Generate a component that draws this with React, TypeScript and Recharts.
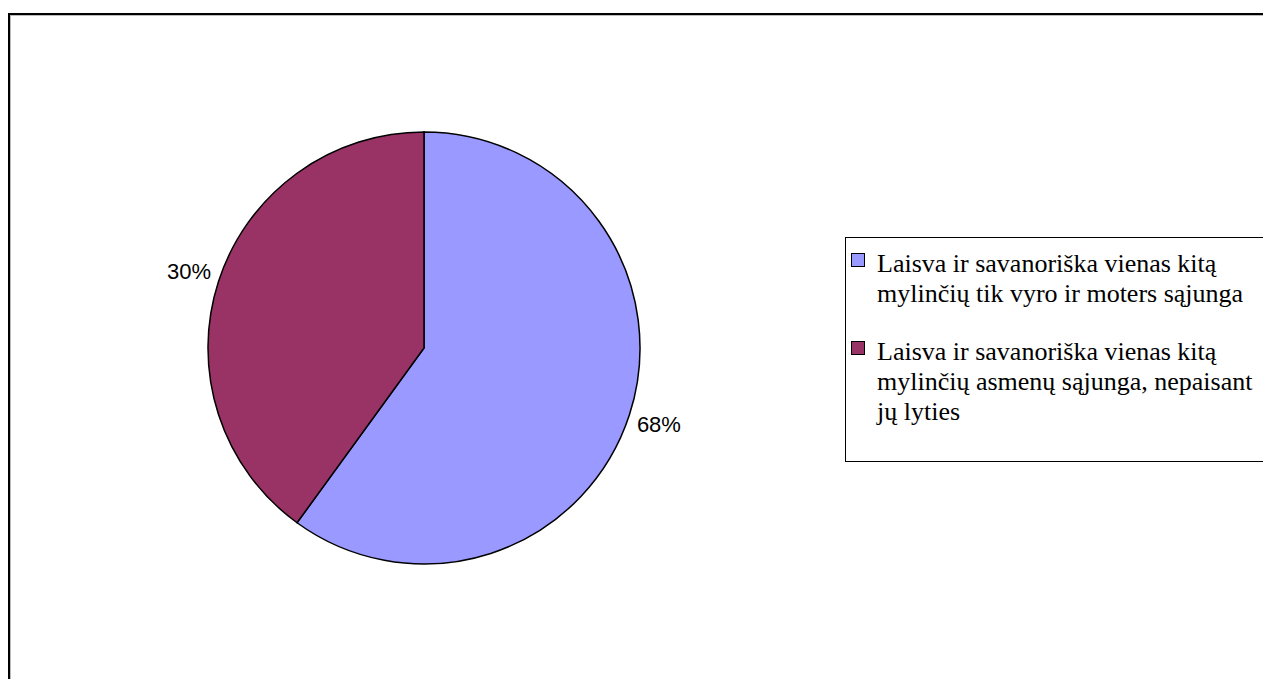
import { PieChart, Pie, Cell, Legend } from 'recharts';

// legend entries, line breaks as in the picture
const categories = [
  'Laisva ir savanoriška vienas kitą\nmylinčių tik vyro ir moters sąjunga',
  'Laisva ir savanoriška vienas kitą\nmylinčių asmenų sąjunga, nepaisant\njų lyties',
];
// slice sizes as drawn (the printed labels differ from the drawn angles)
const sliceValues = [60, 40];
const labelTexts = ['68%', '30%'];
const sliceColors = ['#9999FF', '#993366'];

const data = categories.map((name, i) => ({
  name,
  value: sliceValues[i],
  label: labelTexts[i],
}));

const RAD = Math.PI / 180;

function renderLabel(props: any) {
  const { cx, cy, midAngle, outerRadius, index } = props;
  const r = outerRadius + 31;
  const x = cx + r * Math.cos(-midAngle * RAD);
  const y = cy + r * Math.sin(-midAngle * RAD);
  return (
    <text
      x={x}
      y={y}
      textAnchor="middle"
      dominantBaseline="central"
      fill="#000"
      fontSize={22}
      fontFamily='"Liberation Sans", Arial, sans-serif'
    >
      {labelTexts[index]}
    </text>
  );
}

function LegendBox() {
  return (
    <div
      style={{
        border: '1px solid #000',
        width: 440,
        height: 212,
        boxSizing: 'content-box',
        background: '#fff',
        fontFamily: '"Liberation Serif", "Times New Roman", serif',
        fontSize: 26,
        lineHeight: '30px',
        color: '#000',
        paddingTop: 11,
      }}
    >
      {categories.map((name, i) => (
        <div key={name} style={{ position: 'relative', paddingLeft: 31, marginBottom: 28 }}>
          <span
            style={{
              position: 'absolute',
              left: 5,
              top: 4,
              width: 12,
              height: 12,
              background: sliceColors[i],
              border: '1px solid #000',
            }}
          />
          <div style={{ whiteSpace: 'pre-line' }}>{name}</div>
        </div>
      ))}
    </div>
  );
}

export default function App() {
  return (
    <div style={{ position: 'fixed', left: 0, top: 0, width: 1263, height: 679, overflow: 'hidden', background: '#fff' }}>
      <div
        style={{
          position: 'absolute',
          left: 8,
          top: 13,
          width: 1300,
          height: 700,
          border: '2px solid #000',
          boxShadow: 'inset 1px 1px 0 #bbb',
        }}
      >
        <PieChart width={1253} height={664}>
          <Pie
            data={data}
            dataKey="value"
            nameKey="name"
            cx={409}
            cy={328}
            outerRadius={216}
            startAngle={90}
            endAngle={-270}
            stroke="#000"
            strokeWidth={1.5}
            label={renderLabel}
            labelLine={false}
            isAnimationActive={false}
          >
            {data.map((d, i) => (
              <Cell key={d.name} fill={sliceColors[i]} />
            ))}
          </Pie>
          <Legend
            content={() => <LegendBox />}
            wrapperStyle={{ left: 835, top: 222, width: 442 }}
          />
        </PieChart>
      </div>
    </div>
  );
}
